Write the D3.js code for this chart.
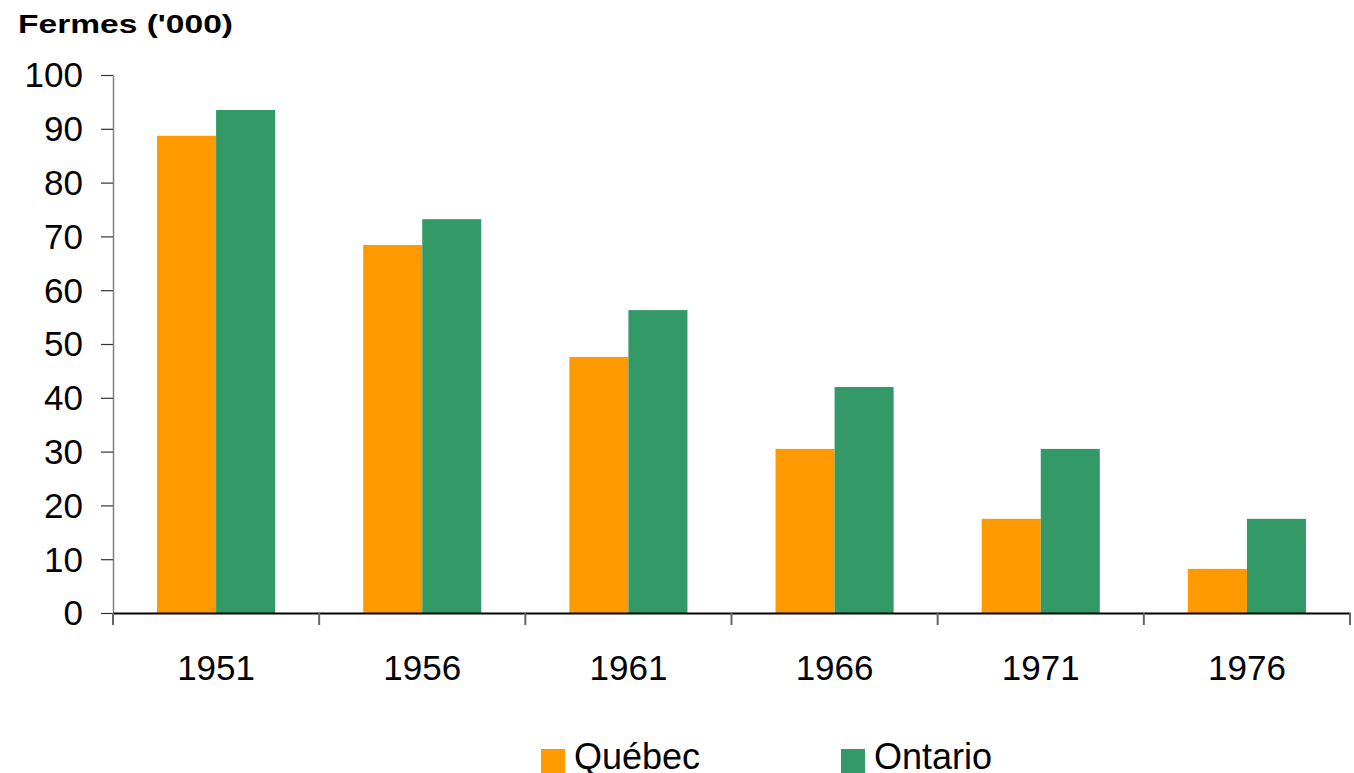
<!DOCTYPE html>
<meta charset="utf-8">
<html>
<head>
    <title>Fermes Québec / Ontario</title>
    <script src="https://cdn.jsdelivr.net/npm/d3@7"></script>
</head>
<style>
    body { margin: 0; background: #fff; }
    svg { display: block; }
    text { font-family: "Liberation Sans", Arial, sans-serif; fill: #000; }
    .title { font-weight: bold; font-size: 25px; }
    .tick text { font-size: 35px; }
    .legend text { font-size: 36px; }
</style>
<body>
<svg width="1354" height="773"></svg>
<script>
    // data
    const years = ["1951", "1956", "1961", "1966", "1971", "1976"]
    const quebec = [88.7, 68.4, 47.6, 30.5, 17.5, 8.2]
    const ontario = [93.5, 73.2, 56.3, 42.0, 30.5, 17.5]
    const seriesNames = ["Québec", "Ontario"]
    const yTicks = [0, 10, 20, 30, 40, 50, 60, 70, 80, 90, 100]

    const colors = ["#ff9900", "#339966"]

    const svg = d3.select("svg")
    const mLeft = 113, mRight = 1350, mTop = 75, mBottom = 613

    const x = d3.scaleBand().domain(years).range([mLeft, mRight]).paddingInner(0).paddingOuter(0)
    const inner = d3.scaleBand().domain(seriesNames).range([0, x.bandwidth()]).paddingInner(0).paddingOuter(0.746)
    const y = d3.scaleLinear().domain([0, 100]).range([mBottom, mTop])

    // title (stretched a bit wider like the original)
    svg.append("text").attr("class", "title")
        .attr("x", 18).attr("y", 33)
        .attr("textLength", 215)
        .attr("lengthAdjust", "spacingAndGlyphs")
        .text("Fermes ('000)")

    // bars
    const rows = years.map((yr, i) => ({year: yr, values: [quebec[i], ontario[i]]}))
    const groups = svg.append("g").selectAll("g")
        .data(rows).enter().append("g")
        .attr("transform", d => `translate(${x(d.year)},0)`)
    groups.selectAll("rect")
        .data(d => d.values.map((v, j) => ({name: seriesNames[j], value: v, j: j})))
        .enter().append("rect")
        .attr("x", d => inner(d.name))
        .attr("width", inner.bandwidth())
        .attr("y", d => y(d.value))
        .attr("height", d => y(0) - y(d.value))
        .attr("fill", d => colors[d.j])

    // y axis
    const yAxis = svg.append("g")
        .attr("transform", `translate(${mLeft},0)`)
        .call(d3.axisLeft(y).tickValues(yTicks).tickSize(12).tickSizeOuter(0).tickPadding(18))
    yAxis.select(".domain").attr("stroke", "#808080").attr("stroke-width", 1.5)
    yAxis.selectAll(".tick line").attr("stroke", "#333").attr("stroke-width", 1.2)
    yAxis.selectAll(".tick text").attr("dy", "0.34em")

    // x axis
    const xAxis = svg.append("g")
        .attr("transform", `translate(0,${mBottom})`)
        .call(d3.axisBottom(x).tickSize(0).tickSizeOuter(0))
    xAxis.select(".domain").attr("stroke", "#000").attr("stroke-width", 2)
    xAxis.selectAll(".tick text").attr("y", 67).attr("dy", 0)
    // category separators
    const edges = years.map(yr => x(yr)).concat([x(years[years.length - 1]) + x.bandwidth()])
    xAxis.selectAll(".sep").data(edges).enter().append("line")
        .attr("x1", d => d).attr("x2", d => d)
        .attr("y1", 0).attr("y2", 12)
        .attr("stroke", "#666").attr("stroke-width", 2)

    // legend
    const legendX = [541, 841]
    const legend = svg.append("g").attr("class", "legend")
    seriesNames.forEach((name, i) => {
        legend.append("rect")
            .attr("x", legendX[i]).attr("y", 749)
            .attr("width", 24).attr("height", 24)
            .attr("fill", colors[i])
        legend.append("text")
            .attr("x", legendX[i] + 33).attr("y", 769)
            .text(name)
    })
</script>
</body>
</html>
